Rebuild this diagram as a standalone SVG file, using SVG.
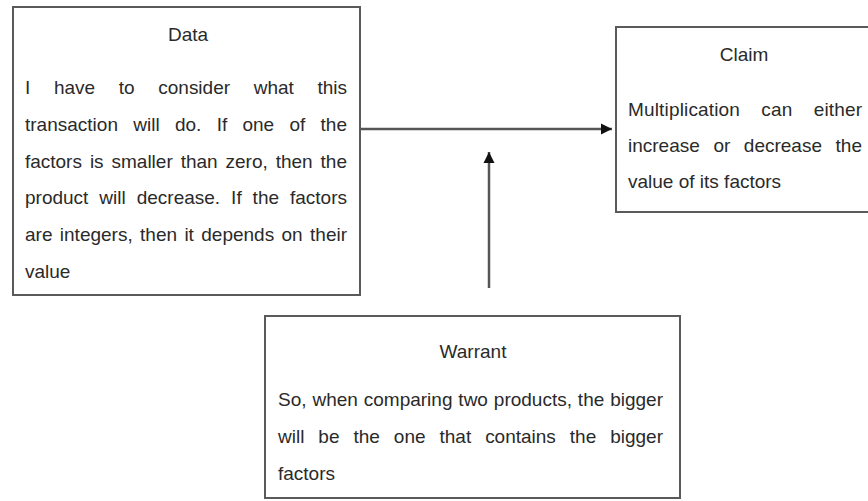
<svg xmlns="http://www.w3.org/2000/svg" width="868" height="501" viewBox="0 0 868 501">
<style>
.box{fill:#fff;stroke:#5a5a5a;stroke-width:2}
.t{font-family:"Liberation Sans",Arial,sans-serif;font-size:19px;fill:#2a2a2a}
.c{text-anchor:middle}
.conn{stroke:#555;stroke-width:2.5;fill:none}
</style>
<defs>
<marker id="ah" markerUnits="userSpaceOnUse" markerWidth="12" markerHeight="12" refX="11" refY="6" orient="auto">
<path d="M0,0.5 L11,6 L0,11.5 Z" fill="#111"/>
</marker>
</defs>
<rect width="868" height="501" fill="#fff"/>
<g id="connectors">
<line class="conn" x1="361" y1="129" x2="612" y2="129" marker-end="url(#ah)"/>
<line class="conn" x1="489" y1="288" x2="489" y2="152" marker-end="url(#ah)"/>
</g>
<g id="data">
<rect class="box" x="13" y="7" width="347" height="288"/>
<text class="t c" x="188" y="41">Data</text>
<text class="t" x="25" y="94" word-spacing="18.4" textLength="322" lengthAdjust="spacing">I have to consider what this</text>
<text class="t" x="25" y="131" word-spacing="10" textLength="322" lengthAdjust="spacing">transaction will do. If one of the</text>
<text class="t" x="25" y="168" word-spacing="2.7" textLength="322" lengthAdjust="spacing">factors is smaller than zero, then the</text>
<text class="t" x="25" y="204" word-spacing="5.7" textLength="322" lengthAdjust="spacing">product will decrease. If the factors</text>
<text class="t" x="25" y="241" word-spacing="2.1" textLength="322" lengthAdjust="spacing">are integers, then it depends on their</text>
<text class="t" x="25" y="278">value</text>
</g>
<g id="claim">
<rect class="box" x="616" y="27" width="256" height="185"/>
<text class="t c" x="744" y="61">Claim</text>
<text class="t" x="628" y="116" word-spacing="15.8" textLength="234" lengthAdjust="spacing">Multiplication can either</text>
<text class="t" x="628" y="152" word-spacing="8.3" textLength="234" lengthAdjust="spacing">increase or decrease the</text>
<text class="t" x="628" y="188">value of its factors</text>
</g>
<g id="warrant">
<rect class="box" x="265" y="316" width="415" height="182"/>
<text class="t c" x="473" y="358">Warrant</text>
<text class="t" x="278" y="406" word-spacing="0.6" textLength="385" lengthAdjust="spacing">So, when comparing two products, the bigger</text>
<text class="t" x="278" y="443" word-spacing="8.7" textLength="385" lengthAdjust="spacing">will be the one that contains the bigger</text>
<text class="t" x="278" y="480">factors</text>
</g>
</svg>
